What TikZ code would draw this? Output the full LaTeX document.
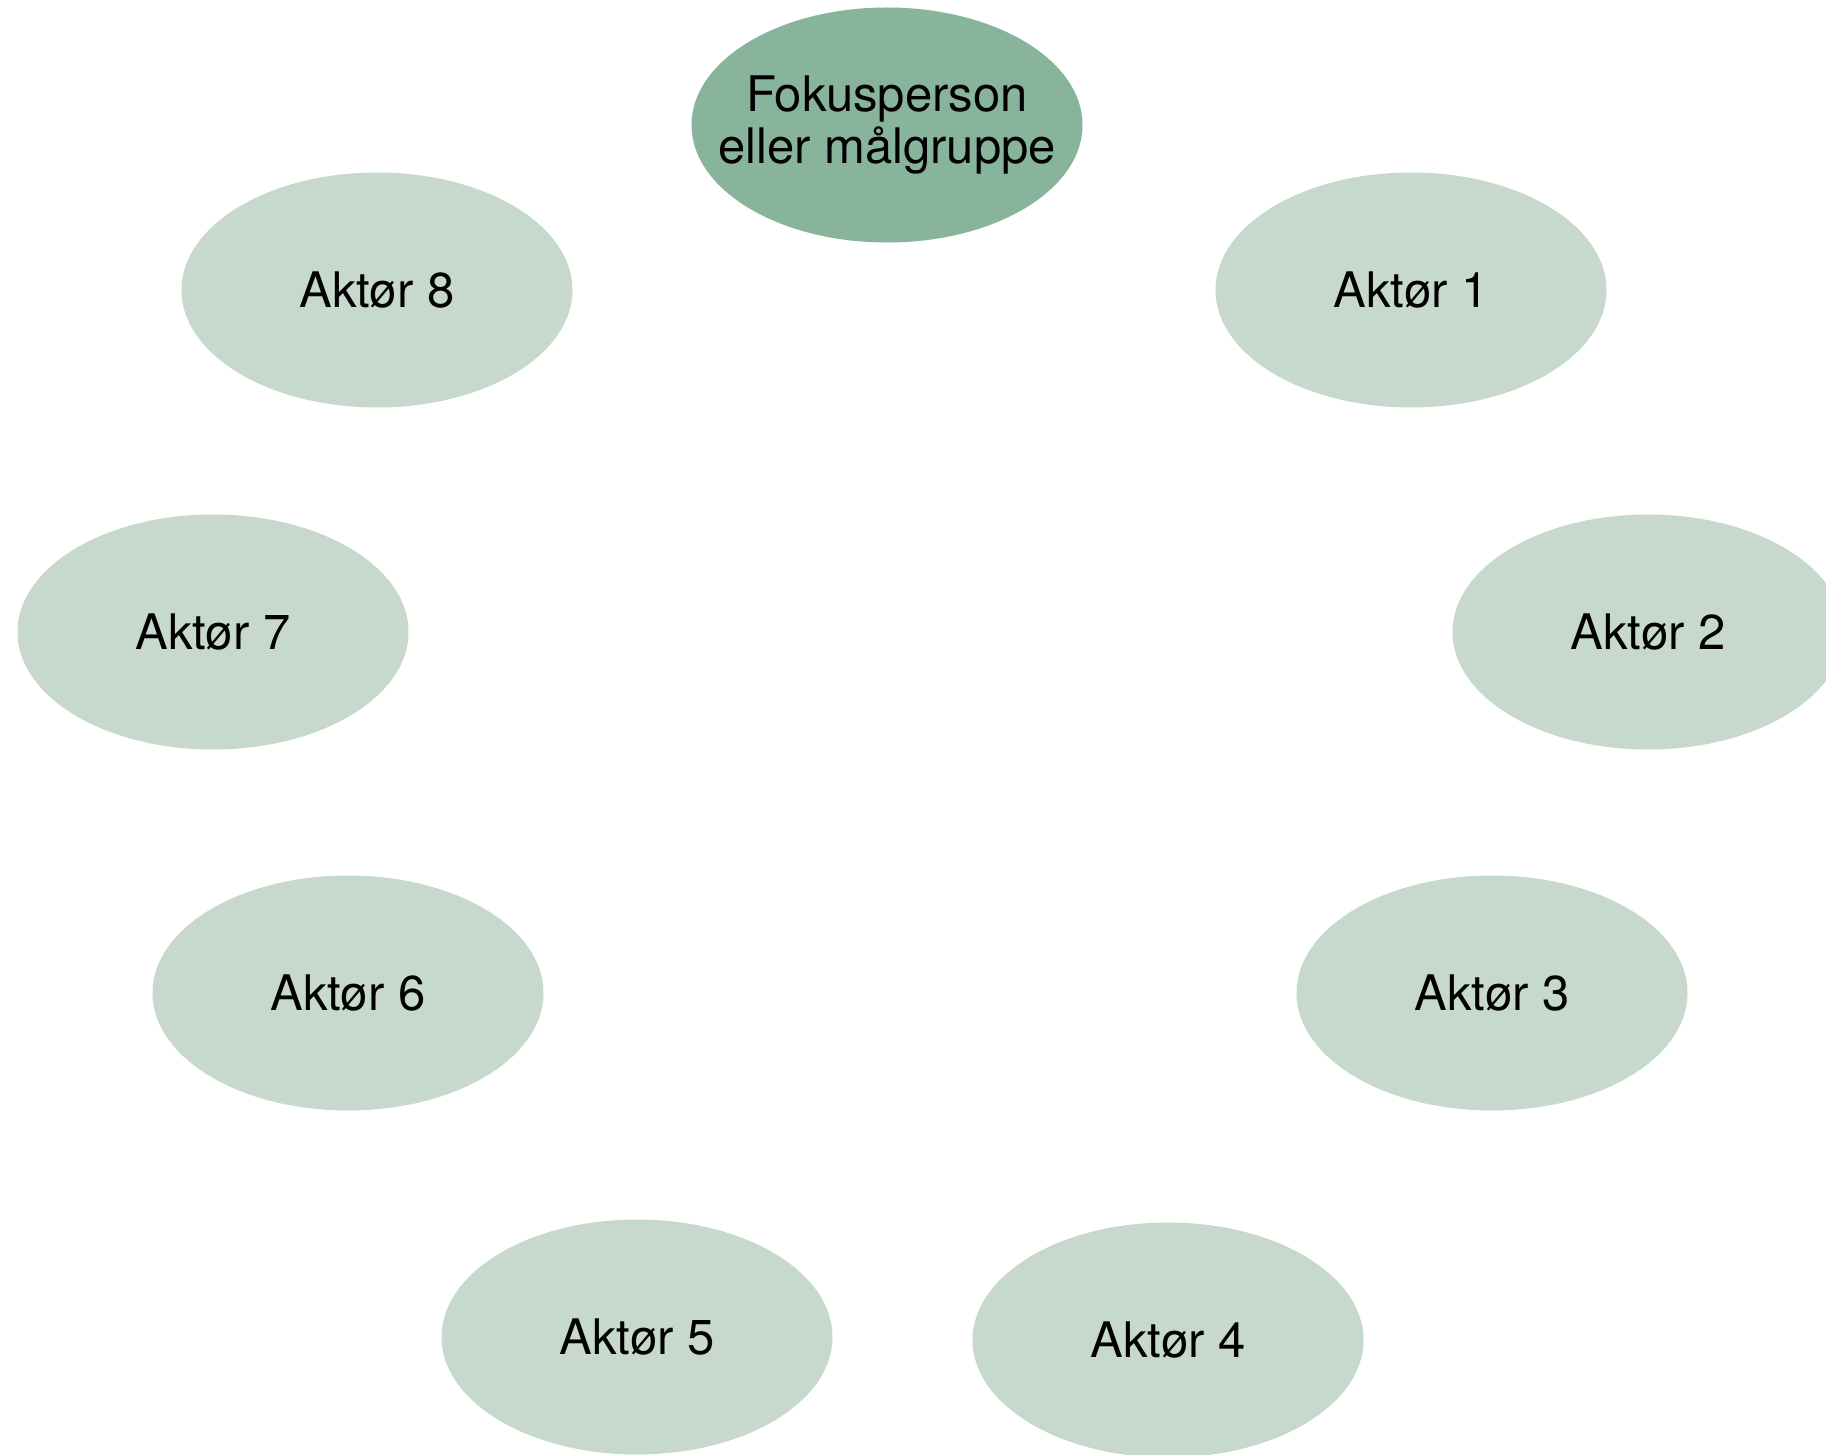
\documentclass[tikz,border=0pt]{standalone}
\usepackage{fontspec}
\setmainfont{TeX Gyre Heros}
\usetikzlibrary{shapes.geometric}
\definecolor{focusgreen}{HTML}{88B49B}
\definecolor{actorgreen}{HTML}{C7D9CD}
% zero-width line so the ellipse size is set by the minimum sizes only
\newcommand{\flatline}[1]{\makebox[0pt]{#1}}
\tikzset{
  bubble/.style={ellipse, inner sep=0pt, minimum width=391*0.5pt,
    minimum height=235*0.5pt, font=\fontsize{24.5}{26}\selectfont,
    text=black, align=center},
  focus/.style={bubble, fill=focusgreen},
  actor/.style={bubble, fill=actorgreen}
}
\begin{document}
\begin{tikzpicture}[x=0.5pt, y=-0.5pt]
  \useasboundingbox[fill=white] (0,0) rectangle (1826,1455);
  \node[focus] (focus) at (887,125)
    {\flatline{Fokusperson}\\\flatline{eller målgruppe}};
  \node[actor] (a1) at (1411,290) {Aktør 1};
  \node[actor] (a2) at (1648,632) {Aktør 2};
  \node[actor] (a3) at (1492,993) {Aktør 3};
  \node[actor] (a4) at (1168,1340) {Aktør 4};
  \node[actor] (a5) at (637,1337) {Aktør 5};
  \node[actor] (a6) at (348,993) {Aktør 6};
  \node[actor] (a7) at (213,632) {Aktør 7};
  \node[actor] (a8) at (377,290) {Aktør 8};
\end{tikzpicture}
\end{document}
